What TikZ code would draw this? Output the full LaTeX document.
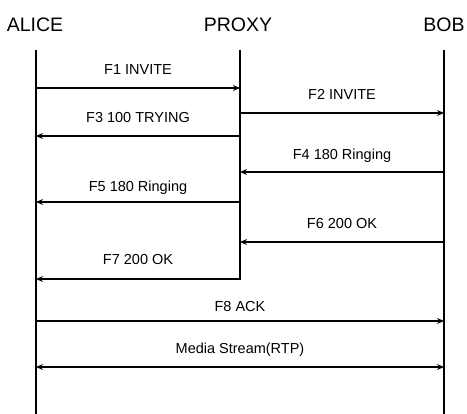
\documentclass[tikz,border=0pt]{standalone}
\usepackage{fontspec}
\setmainfont{Liberation Sans}
\usetikzlibrary{arrows.meta}
\begin{document}
\begin{tikzpicture}[x=1pt,y=-1pt,
  head/.style={font=\fontsize{19.5}{21}\selectfont, inner sep=0pt, anchor=base},
  lbl/.style={font=\fontsize{14.5}{16}\selectfont, inner sep=0pt, anchor=base},
  life/.style={line width=1.6pt},
  msg/.style={line width=1.5pt, -{Stealth[length=7pt,width=6pt]}},
  bmsg/.style={line width=1.5pt, {Stealth[length=7pt,width=6pt]}-{Stealth[length=7pt,width=6pt]}}]
\useasboundingbox (0,0) rectangle (467,414);
% headers
\node[head] (alice) at (35,32) {ALICE};
\node[head] (proxy) at (238,32) {PROXY};
\node[head] (bob) at (444,32) {BOB};
% lifeline ends
\coordinate (at) at (36,50);  \coordinate (ab) at (36,414);
\coordinate (pt) at (240,50); \coordinate (pb) at (240,280);
\coordinate (bt) at (444,50); \coordinate (bb) at (444,414);
\draw[life] (at) -- (ab);
\draw[life] (pt) -- (pb);
\draw[life] (bt) -- (bb);
% message endpoints
\coordinate (a1) at (36,88);  \coordinate (p1) at (240,88);
\coordinate (p2) at (240,113); \coordinate (b2) at (444,113);
\coordinate (p3) at (240,136); \coordinate (a3) at (36,136);
\coordinate (b4) at (444,172); \coordinate (p4) at (240,172);
\coordinate (p5) at (240,202); \coordinate (a5) at (36,202);
\coordinate (b6) at (444,242); \coordinate (p6) at (240,242);
\coordinate (p7) at (240,279); \coordinate (a7) at (36,279);
\coordinate (a8) at (36,321);  \coordinate (b8) at (444,321);
\coordinate (a9) at (36,367);  \coordinate (b9) at (444,367);
\draw[msg] (a1) -- (p1);
\draw[msg] (p2) -- (b2);
\draw[msg] (p3) -- (a3);
\draw[msg] (b4) -- (p4);
\draw[msg] (p5) -- (a5);
\draw[msg] (b6) -- (p6);
\draw[msg] (p7) -- (a7);
\draw[msg] (a8) -- (b8);
\draw[bmsg] (a9) -- (b9);
% labels
\node[lbl] (l1) at (138,75) {F1 INVITE};
\node[lbl] (l2) at (342,100) {F2 INVITE};
\node[lbl] (l3) at (138,123) {F3 100 TRYING};
\node[lbl] (l4) at (342,160) {F4 180 Ringing};
\node[lbl] (l5) at (138,192) {F5 180 Ringing};
\node[lbl] (l6) at (342,229) {F6 200 OK};
\node[lbl] (l7) at (138,265) {F7 200 OK};
\node[lbl] (l8) at (240,312) {F8 ACK};
\node[lbl] (l9) at (240,354) {Media Stream(RTP)};
\end{tikzpicture}
\end{document}
